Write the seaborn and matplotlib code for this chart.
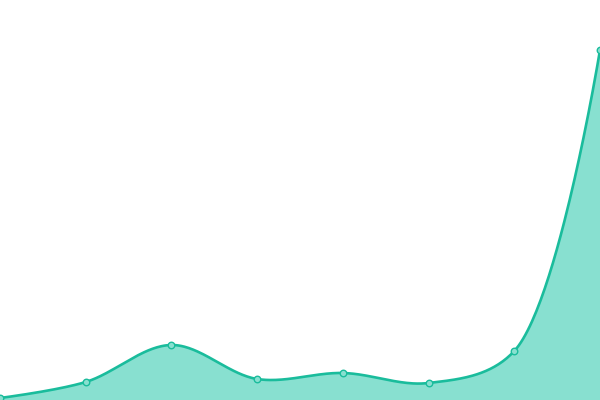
import numpy as np
import pandas as pd
import seaborn as sns
import matplotlib.pyplot as plt

# values
steps = [0, 1, 2, 3, 4, 5, 6, 7]
values = [2, 18, 55, 21, 27, 17, 49, 350]

line_color = "#1abc9c"
fill_color = "#88e0d0"

W, H = 600, 400
x_max, y_max = 7, 400


def catmull_rom(xs, ys, alpha=0.5, n=60):
    # centripetal catmull-rom worked out in pixel space (same as d3.curveCatmullRom)
    sx, sy = W / x_max, H / y_max
    P = np.column_stack([np.asarray(xs, float) * sx, np.asarray(ys, float) * sy])
    m = len(P)
    d = np.hypot(*np.diff(P, axis=0).T)
    la = d ** alpha
    l2a = d ** (2 * alpha)
    u = np.linspace(0, 1, n)
    b = [(1 - u) ** 3, 3 * u * (1 - u) ** 2, 3 * u ** 2 * (1 - u), u ** 3]
    out = []
    for i in range(m - 1):
        p1, p2 = P[i], P[i + 1]
        c1, c2 = p1.copy(), p2.copy()
        l12, l12_2 = la[i], l2a[i]
        if i > 0:
            l01, l01_2 = la[i - 1], l2a[i - 1]
            a = 2 * l01_2 + 3 * l01 * l12 + l12_2
            nn = 3 * l01 * (l01 + l12)
            c1 = (p1 * a - P[i - 1] * l12_2 + p2 * l01_2) / nn
        if i < m - 2:
            l23, l23_2 = la[i + 1], l2a[i + 1]
            bb = 2 * l23_2 + 3 * l23 * l12 + l12_2
            mm = 3 * l23 * (l23 + l12)
            c2 = (p2 * bb + p1 * l23_2 - P[i + 2] * l12_2) / mm
        seg = sum(b[j][:, None] * q for j, q in enumerate([p1, c1, c2, p2]))
        out.append(seg)
    out = np.vstack(out)
    return out[:, 0] / sx, out[:, 1] / sy


cx, cy = catmull_rom(steps, values)
curve = pd.DataFrame({"x": cx, "y": cy})
points = pd.DataFrame({"x": steps, "y": values})

sns.set_style("white")
fig = plt.figure(figsize=(6, 4), dpi=100)
ax = fig.add_axes([0, 0, 1, 1])

ax.fill_between(cx, 0, cy, color=fill_color, linewidth=0)
sns.lineplot(data=curve, x="x", y="y", ax=ax, color=line_color, linewidth=1.9, sort=False)
sns.scatterplot(data=points, x="x", y="y", ax=ax, s=22, color=fill_color,
                edgecolor=line_color, linewidth=1, zorder=5, clip_on=False)

ax.set_xlim(0, x_max)
ax.set_ylim(0, y_max)
ax.set_axis_off()

plt.savefig("out.png", dpi=100)
